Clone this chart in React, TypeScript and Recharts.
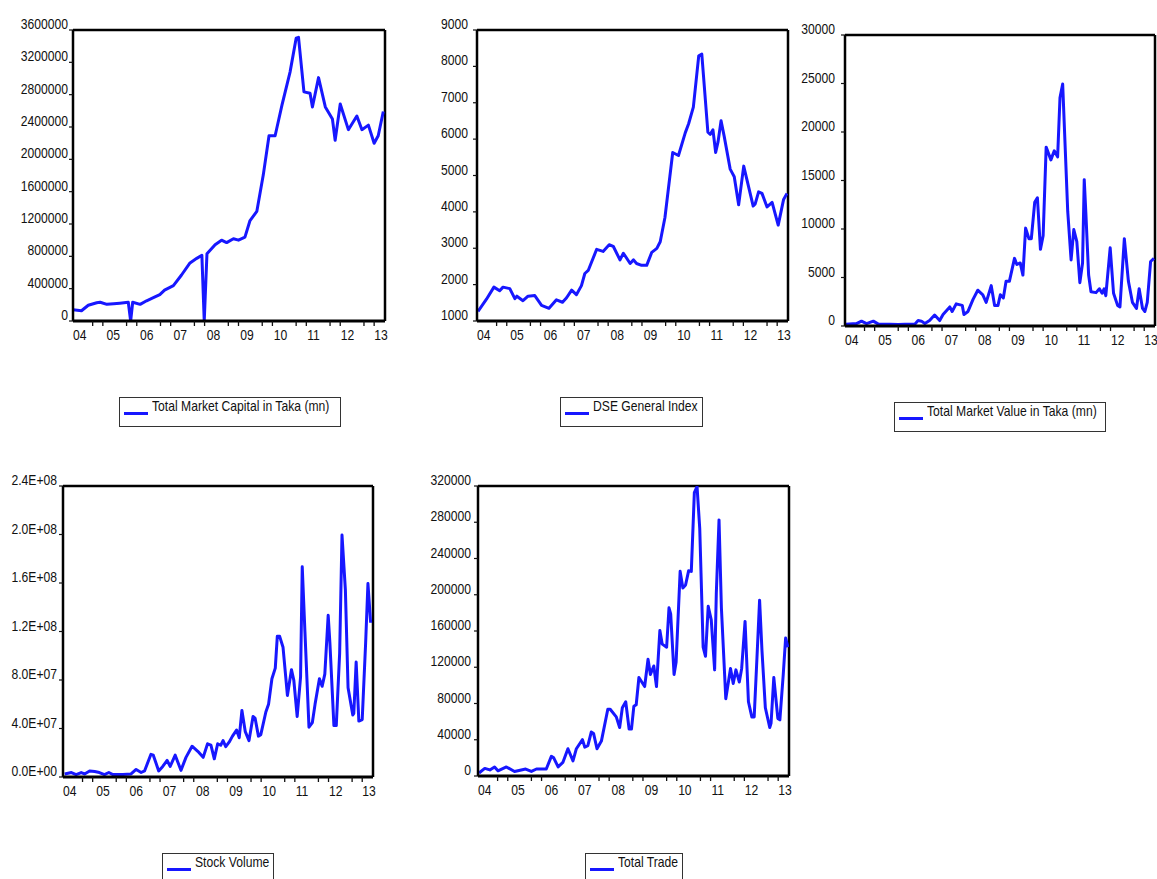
import React from 'react';
import { LineChart, Line, XAxis, YAxis, ReferenceLine } from 'recharts';

// ---------- DATA ----------
const yearTicks = [2004, 2005, 2006, 2007, 2008, 2009, 2010, 2011, 2012, 2013];

const capDates = [2004.0, 2004.25, 2004.45, 2004.7, 2004.8, 2005.0, 2005.2, 2005.38, 2005.63, 2005.7, 2005.76, 2005.98, 2006.17, 2006.37, 2006.56, 2006.7, 2006.96, 2007.2, 2007.45, 2007.65, 2007.8, 2007.87, 2007.95, 2008.19, 2008.38, 2008.53, 2008.73, 2008.88, 2009.07, 2009.22, 2009.42, 2009.61, 2009.78, 2009.96, 2010.16, 2010.4, 2010.58, 2010.65, 2010.81, 2010.99, 2011.06, 2011.24, 2011.44, 2011.65, 2011.73, 2011.88, 2012.12, 2012.37, 2012.52, 2012.71, 2012.88, 2013.0, 2013.15];
const capValues = [140000, 127000, 195000, 225000, 232000, 206000, 213000, 220000, 232000, 0, 232000, 206000, 250000, 288000, 326000, 382000, 438000, 569000, 719000, 775000, 813000, 0, 831000, 944000, 1000000, 970000, 1018000, 1000000, 1037000, 1243000, 1356000, 1805000, 2292000, 2292000, 2667000, 3079000, 3498000, 3509000, 2835000, 2817000, 2648000, 3011000, 2648000, 2498000, 2236000, 2685000, 2367000, 2536000, 2367000, 2423000, 2198000, 2292000, 2592000];
const capTicks = [0, 400000, 800000, 1200000, 1600000, 2000000, 2400000, 2800000, 3200000, 3600000];

const dseDates = [2004.03, 2004.28, 2004.5, 2004.67, 2004.77, 2004.97, 2005.12, 2005.18, 2005.36, 2005.51, 2005.71, 2005.91, 2006.13, 2006.35, 2006.53, 2006.65, 2006.8, 2006.94, 2007.09, 2007.19, 2007.29, 2007.54, 2007.73, 2007.91, 2008.03, 2008.23, 2008.33, 2008.53, 2008.63, 2008.72, 2008.87, 2009.02, 2009.17, 2009.32, 2009.42, 2009.56, 2009.79, 2009.96, 2010.16, 2010.26, 2010.4, 2010.56, 2010.65, 2010.83, 2010.9, 2010.98, 2011.06, 2011.13, 2011.22, 2011.31, 2011.49, 2011.61, 2011.74, 2011.89, 2012.17, 2012.23, 2012.33, 2012.43, 2012.58, 2012.73, 2012.91, 2013.07, 2013.17];
const dseValues = [1266, 1600, 1931, 1832, 1931, 1890, 1615, 1682, 1557, 1682, 1699, 1432, 1349, 1582, 1516, 1640, 1848, 1723, 1973, 2306, 2389, 2971, 2913, 3096, 3054, 2680, 2863, 2580, 2680, 2580, 2530, 2530, 2888, 2996, 3179, 3844, 5632, 5549, 6172, 6422, 6879, 8293, 8335, 6189, 6131, 6256, 5632, 5923, 6505, 6090, 5175, 4967, 4193, 5258, 4160, 4218, 4551, 4509, 4135, 4260, 3636, 4343, 4509];
const dseTicks = [1000, 2000, 3000, 4000, 5000, 6000, 7000, 8000, 9000];

const mvDates = [2004.03, 2004.34, 2004.49, 2004.64, 2004.84, 2004.99, 2005.33, 2005.58, 2005.78, 2006.07, 2006.17, 2006.27, 2006.37, 2006.51, 2006.66, 2006.81, 2006.91, 2007.11, 2007.18, 2007.3, 2007.48, 2007.53, 2007.65, 2007.8, 2007.94, 2008.09, 2008.19, 2008.34, 2008.44, 2008.54, 2008.61, 2008.7, 2008.78, 2008.88, 2009.03, 2009.1, 2009.2, 2009.28, 2009.36, 2009.46, 2009.53, 2009.63, 2009.71, 2009.8, 2009.88, 2009.97, 2010.11, 2010.21, 2010.31, 2010.38, 2010.46, 2010.61, 2010.71, 2010.79, 2010.88, 2010.97, 2011.05, 2011.1, 2011.15, 2011.23, 2011.3, 2011.45, 2011.55, 2011.63, 2011.69, 2011.74, 2011.87, 2011.97, 2012.09, 2012.16, 2012.29, 2012.41, 2012.53, 2012.65, 2012.73, 2012.83, 2012.9, 2012.97, 2013.07, 2013.17];
const mvValues = [190, 250, 500, 250, 500, 190, 190, 160, 190, 190, 560, 500, 250, 560, 1125, 560, 1190, 1970, 1500, 2280, 2125, 1190, 1500, 2750, 3690, 3220, 2440, 4160, 2125, 2125, 3220, 2900, 4625, 4625, 6970, 6340, 6500, 5250, 10090, 9000, 9000, 12750, 13220, 7900, 9310, 18440, 17125, 18060, 17440, 23530, 24940, 11810, 6810, 9940, 8690, 4470, 6500, 15090, 11500, 5250, 3530, 3440, 3840, 3375, 3840, 3125, 8060, 3375, 2125, 1970, 9000, 4625, 2440, 1810, 3840, 1810, 1500, 2440, 6650, 6970];
const mvTicks = [0, 5000, 10000, 15000, 20000, 25000, 30000];

const volDates = [2004.05, 2004.25, 2004.39, 2004.54, 2004.64, 2004.79, 2004.94, 2005.08, 2005.23, 2005.36, 2005.48, 2005.78, 2006.02, 2006.17, 2006.32, 2006.42, 2006.61, 2006.68, 2006.84, 2006.96, 2007.09, 2007.18, 2007.33, 2007.5, 2007.65, 2007.83, 2008.0, 2008.16, 2008.29, 2008.39, 2008.49, 2008.59, 2008.68, 2008.75, 2008.83, 2008.93, 2009.03, 2009.15, 2009.23, 2009.31, 2009.41, 2009.52, 2009.64, 2009.7, 2009.8, 2009.87, 2010.02, 2010.1, 2010.2, 2010.3, 2010.36, 2010.43, 2010.53, 2010.66, 2010.78, 2010.85, 2010.95, 2011.05, 2011.1, 2011.18, 2011.3, 2011.4, 2011.48, 2011.61, 2011.69, 2011.77, 2011.87, 2011.92, 2012.04, 2012.11, 2012.21, 2012.28, 2012.38, 2012.46, 2012.6, 2012.63, 2012.7, 2012.78, 2012.88, 2012.98, 2013.05, 2013.13];
const volValues = [2.5e6, 3.7e6, 2e6, 3.7e6, 2.5e6, 5e6, 4.5e6, 3.7e6, 2e6, 3.7e6, 2e6, 2e6, 2.5e6, 6.2e6, 3.7e6, 5e6, 1.87e7, 1.8e7, 5e6, 8.7e6, 1.37e7, 8.7e6, 1.8e7, 5.5e6, 1.62e7, 2.54e7, 2.12e7, 1.62e7, 2.74e7, 2.62e7, 1.5e7, 2.74e7, 2.62e7, 3e7, 2.5e7, 2.87e7, 3.37e7, 3.87e7, 3.24e7, 5.49e7, 3.74e7, 3e7, 4.99e7, 4.86e7, 3.37e7, 3.49e7, 5.36e7, 5.99e7, 8.1e7, 8.98e7, 1.16e8, 1.16e8, 1.07e8, 6.73e7, 8.85e7, 7.98e7, 4.99e7, 8.23e7, 1.733e8, 1.197e8, 4.11e7, 4.49e7, 5.99e7, 8.1e7, 7.48e7, 8.48e7, 1.334e8, 1.11e8, 4.24e7, 4.24e7, 1.02e8, 1.995e8, 1.546e8, 7.36e7, 5.11e7, 5.24e7, 9.48e7, 4.61e7, 4.74e7, 1.097e8, 1.596e8, 1.272e8];
const volTicks = [0, 4e7, 8e7, 1.2e8, 1.6e8, 2e8, 2.4e8];

const tradeDates = [2004.03, 2004.2, 2004.35, 2004.49, 2004.59, 2004.84, 2005.08, 2005.28, 2005.41, 2005.58, 2005.73, 2006.02, 2006.17, 2006.24, 2006.37, 2006.51, 2006.66, 2006.81, 2006.91, 2007.09, 2007.16, 2007.25, 2007.35, 2007.42, 2007.52, 2007.65, 2007.84, 2007.91, 2008.09, 2008.19, 2008.27, 2008.37, 2008.47, 2008.54, 2008.61, 2008.68, 2008.76, 2008.93, 2009.03, 2009.1, 2009.2, 2009.28, 2009.38, 2009.45, 2009.58, 2009.65, 2009.7, 2009.8, 2009.86, 2009.98, 2010.06, 2010.14, 2010.23, 2010.31, 2010.4, 2010.48, 2010.56, 2010.66, 2010.73, 2010.81, 2010.9, 2011.0, 2011.05, 2011.13, 2011.2, 2011.33, 2011.47, 2011.55, 2011.63, 2011.73, 2011.8, 2011.9, 2012.0, 2012.1, 2012.17, 2012.25, 2012.33, 2012.4, 2012.5, 2012.63, 2012.67, 2012.75, 2012.87, 2012.93, 2013.03, 2013.1, 2013.17];
const tradeValues = [3300, 8400, 6700, 10000, 5700, 10000, 5000, 6700, 7700, 5000, 7700, 7700, 21700, 20000, 10000, 15000, 30100, 16700, 30100, 40100, 31800, 33400, 48500, 46800, 30100, 38500, 73600, 73600, 65200, 53500, 75300, 81900, 51800, 51800, 76900, 78600, 108700, 98700, 128800, 112000, 121400, 98700, 160500, 145500, 142100, 185600, 178900, 112000, 125400, 225800, 207400, 210700, 226400, 225800, 312700, 319400, 272600, 142100, 132100, 187300, 172200, 117100, 202300, 282600, 185600, 85300, 118700, 102000, 117100, 103700, 118700, 170600, 81900, 65200, 65200, 128800, 194000, 138800, 75300, 53500, 58500, 108700, 63500, 61900, 112000, 152200, 142100];
const tradeTicks = [0, 40000, 80000, 120000, 160000, 200000, 240000, 280000, 320000];

// ---------- STYLE ----------
const FONT = '"Liberation Sans", Arial, sans-serif';
const BLUE = '#1717ff';
const FS = 15;
const SX = 0.81; // horizontal condensing to mimic a narrow face
const X_END = 2013.2;

const xMinor = yearTicks.flatMap((y) => [y + 0.58, y + 0.88]).filter((v) => v < X_END);
const xAllTicks = [...yearTicks, ...xMinor].sort((a, b) => a - b);

const plainFmt = (v: number) => String(v);
const sciFmt = (v: number) => {
  if (v === 0) return '0.0E+00';
  const e = Math.floor(Math.log10(v) + 1e-9);
  const m = v / Math.pow(10, e);
  return `${m.toFixed(1)}E+${String(e).padStart(2, '0')}`;
};

const XTick = (props: any) => {
  const { x, y, payload } = props;
  const v = payload.value as number;
  const isYear = Math.abs(v - Math.round(v)) < 1e-6;
  if (isYear) {
    const shift = -(v - 2004) * 0.45;
    return (
      <g transform={`translate(${x + shift},${y + 19})`}>
        <text x={0} y={0} transform={`scale(${SX},1)`} textAnchor="start" fontSize={FS} fontFamily={FONT} fill="#111">
          {String(Math.round(v) % 100).padStart(2, '0')}
        </text>
      </g>
    );
  }
  return <line x1={x} x2={x} y1={y} y2={y + 5} stroke="#111" strokeWidth={1.3} />;
};

const makeYTick = (fmt: (v: number) => string) => (props: any) => {
  const { x, y, payload } = props;
  return (
    <g transform={`translate(${x},${y - 1})`}>
      <text x={0} y={0} transform={`scale(${SX},1)`} textAnchor="end" fontSize={FS} fontFamily={FONT} fill="#111">
        {fmt(payload.value)}
      </text>
    </g>
  );
};

type PanelProps = {
  L: number; T: number; R: number; B: number;
  dates: number[]; values: number[];
  domain: [number, number]; ticks: number[]; fmt: (v: number) => string; gap: number;
  legend: string; lx: number; ly: number; lw: number;
};

const ML = 75, MT = 20, MR = 14, MB = 30;

const Panel = (p: PanelProps) => {
  const data = p.dates.map((d, i) => ({ t: d, v: p.values[i] }));
  const w = p.R - p.L + ML + MR;
  const h = p.B - p.T + MT + MB;
  return (
    <>
      <div style={{ position: 'absolute', left: p.L - ML, top: p.T - MT, width: w, height: h }}>
        <LineChart width={w} height={h} data={data} margin={{ top: MT, right: MR, bottom: MB, left: 0 }}>
          <XAxis
            dataKey="t" type="number" domain={[2004, X_END]} ticks={xAllTicks} interval={0}
            allowDataOverflow tick={<XTick />} tickLine={false} tickSize={0} tickMargin={0} height={MB}
            axisLine={{ stroke: '#000', strokeWidth: 3 }}
          />
          <YAxis
            type="number" domain={p.domain} ticks={p.ticks} interval={0} allowDataOverflow
            width={ML} tick={makeYTick(p.fmt)} tickSize={4} tickMargin={p.gap - 4}
            tickLine={{ stroke: '#111', strokeWidth: 1.2 }} axisLine={{ stroke: '#000', strokeWidth: 2.5 }}
          />
          <ReferenceLine y={p.domain[1]} stroke="#000" strokeWidth={2.5} ifOverflow="visible" />
          <ReferenceLine x={X_END} stroke="#000" strokeWidth={2.5} ifOverflow="visible" />
          <Line
            type="linear" dataKey="v" stroke={BLUE} strokeWidth={3} dot={false}
            isAnimationActive={false} strokeLinejoin="round"
          />
        </LineChart>
      </div>
      <div
        style={{
          position: 'absolute', left: p.lx, top: p.ly, width: p.lw, height: 30,
          border: '1px solid #333', boxSizing: 'border-box', background: '#fff',
        }}
      >
        <div style={{ position: 'absolute', left: 4, top: 14, width: 24, height: 3, background: BLUE }} />
        <div
          style={{
            position: 'absolute', left: 32, top: -1, fontFamily: FONT, fontSize: FS,
            color: '#111', whiteSpace: 'nowrap', lineHeight: '18px',
            transform: `scaleX(${SX})`, transformOrigin: 'left top',
          }}
        >
          {p.legend}
        </div>
      </div>
    </>
  );
};

export default function App() {
  return (
    <div style={{ position: 'absolute', left: 0, top: 0, width: 1157, height: 879, overflow: 'hidden', background: '#fff' }}>
      <Panel L={73} T={30} R={385} B={351} dates={capDates} values={capValues} domain={[0, 3600000]} ticks={capTicks} fmt={plainFmt} gap={5}
        legend="Total Market Capital in Taka (mn)" lx={119} ly={397} lw={222} />
      <Panel L={477} T={30} R={788} B={351} dates={dseDates} values={dseValues} domain={[1000, 9000]} ticks={dseTicks} fmt={plainFmt} gap={9}
        legend="DSE General Index" lx={560} ly={397} lw={143} />
      <Panel L={845} T={35} R={1155} B={356} dates={mvDates} values={mvValues} domain={[0, 30000]} ticks={mvTicks} fmt={plainFmt} gap={10}
        legend="Total Market Value in Taka (mn)" lx={894} ly={402} lw={212} />
      <Panel L={63} T={486} R={373} B={807} dates={volDates} values={volValues} domain={[0, 2.4e8]} ticks={volTicks} fmt={sciFmt} gap={6}
        legend="Stock Volume" lx={162} ly={853} lw={112} />
      <Panel L={478} T={486} R={789} B={806} dates={tradeDates} values={tradeValues} domain={[0, 320000]} ticks={tradeTicks} fmt={plainFmt} gap={7}
        legend="Total Trade" lx={585} ly={853} lw={98} />
    </div>
  );
}
